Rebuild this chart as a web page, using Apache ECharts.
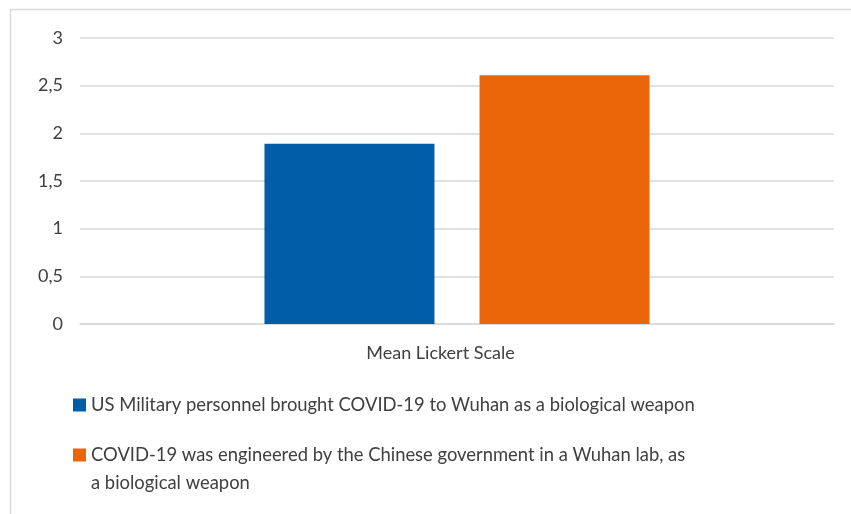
<!DOCTYPE html>
<html>
<head>
<meta charset="utf-8">
<script src="https://cdn.jsdelivr.net/npm/echarts@6/dist/echarts.min.js"></script>
<style>
  html, body { margin: 0; padding: 0; background: #ffffff; }
  #chart { width: 851px; height: 514px; }
</style>
</head>
<body>
<div id="chart"></div>
<script>
// Survey result: mean agreement on a Likert scale for two COVID-19 origin claims
const categories = ['Mean Lickert Scale'];
const seriesNames = [
  'US Military personnel brought COVID-19 to Wuhan as a biological weapon',
  'COVID-19 was engineered by the Chinese government in a Wuhan lab, as a biological weapon'
];
const usMilitaryValues = [1.89];
const chineseLabValues = [2.61];
const seriesColors = ['#005EA9', '#EB6608'];

const FONT = 'Lato, "Open Sans", sans-serif';
const TEXT_COLOR = '#404040';
const GRID_COLOR = '#d9d9d9';

const chart = echarts.init(document.getElementById('chart'), null, { renderer: 'canvas' });

const legendBase = {
  orient: 'vertical',
  left: 73,
  padding: 0,
  icon: 'rect',
  itemWidth: 13,
  itemHeight: 13,
  selectedMode: false
};

const option = {
  backgroundColor: '#ffffff',
  animation: false,
  textStyle: { fontFamily: FONT },
  graphic: [{
    type: 'rect',
    shape: { x: 10.5, y: 9.5, width: 900, height: 600 },
    style: { fill: 'none', stroke: GRID_COLOR, lineWidth: 1.5 },
    silent: true, z: -10
  }],
  grid: { left: 80, right: 17, top: 38, bottom: 190, containLabel: false },
  xAxis: {
    type: 'category',
    data: categories,
    axisLine: { show: true, lineStyle: { color: GRID_COLOR, width: 1.5 } },
    axisTick: { show: false },
    axisLabel: {
      color: TEXT_COLOR, fontSize: 18, fontFamily: FONT, margin: 20,
      padding: [0, 33, 0, 0]
    }
  },
  yAxis: {
    type: 'value',
    min: 0, max: 3, interval: 0.5,
    axisLine: { show: false },
    axisTick: { show: false },
    splitLine: { lineStyle: { color: GRID_COLOR, width: 1.5 } },
    axisLabel: {
      color: TEXT_COLOR, fontSize: 18, fontFamily: FONT, margin: 17,
      formatter: v => String(v).replace('.', ',')
    }
  },
  legend: [
    Object.assign({}, legendBase, {
      data: [seriesNames[0]],
      top: 394,
      textStyle: { color: TEXT_COLOR, fontSize: 18.4, fontFamily: FONT, lineHeight: 22 }
    }),
    Object.assign({}, legendBase, {
      data: [seriesNames[1]],
      top: 413,
      // empty first line keeps the swatch level with the first line of text
      formatter: name => '\n' + name.replace(', as a ', ', as\na '),
      textStyle: { color: TEXT_COLOR, fontSize: 18.4, fontFamily: FONT, lineHeight: 28 }
    })
  ],
  series: [
    {
      name: seriesNames[0], type: 'bar', data: usMilitaryValues,
      itemStyle: { color: seriesColors[0] },
      barWidth: 170, barGap: '26.5%'
    },
    {
      name: seriesNames[1], type: 'bar', data: chineseLabValues,
      itemStyle: { color: seriesColors[1] },
      barWidth: 170, barGap: '26.5%'
    }
  ]
};

chart.setOption(option);
</script>
</body>
</html>
